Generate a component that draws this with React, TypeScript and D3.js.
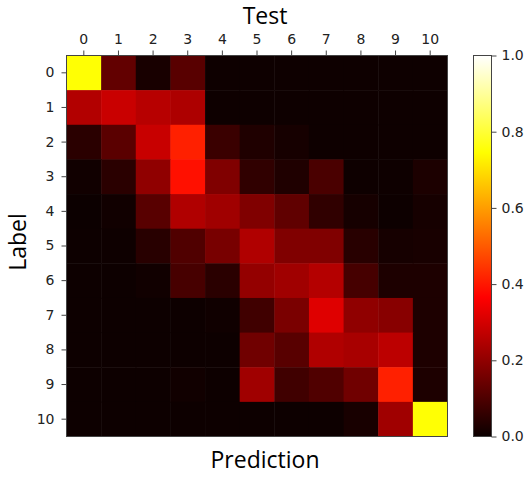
import React, { useEffect, useRef } from 'react';
import * as d3 from 'd3';

// class names for both axes
const classes = ['0', '1', '2', '3', '4', '5', '6', '7', '8', '9', '10'];

// confusion matrix, rows = label, cols = prediction
const row0 = [0.75, 0.13, 0.02, 0.115, 0.005, 0.005, 0.005, 0.005, 0.005, 0.005, 0.005];
const row1 = [0.25, 0.285, 0.258, 0.243, 0.005, 0.005, 0.005, 0.005, 0.005, 0.005, 0.005];
const row2 = [0.047, 0.118, 0.283, 0.413, 0.071, 0.03, 0.017, 0.005, 0.005, 0.005, 0.005];
const row3 = [0.01, 0.047, 0.199, 0.389, 0.175, 0.056, 0.03, 0.095, 0.005, 0.005, 0.026];
const row4 = [0.002, 0.01, 0.115, 0.247, 0.223, 0.175, 0.127, 0.056, 0.017, 0.004, 0.017];
const row5 = [0.003, 0.005, 0.044, 0.104, 0.163, 0.247, 0.175, 0.175, 0.044, 0.017, 0.02];
const row6 = [0.003, 0.003, 0.01, 0.09, 0.047, 0.205, 0.223, 0.253, 0.089, 0.028, 0.028];
const row7 = [0.003, 0.003, 0.003, 0.003, 0.008, 0.08, 0.166, 0.318, 0.199, 0.188, 0.028];
const row8 = [0.003, 0.003, 0.003, 0.003, 0.003, 0.151, 0.115, 0.247, 0.235, 0.265, 0.028];
const row9 = [0.003, 0.003, 0.003, 0.01, 0.003, 0.223, 0.08, 0.104, 0.151, 0.413, 0.028];
const row10 = [0.003, 0.003, 0.003, 0.003, 0.003, 0.003, 0.003, 0.003, 0.02, 0.223, 0.75];
const matrix = [row0, row1, row2, row3, row4, row5, row6, row7, row8, row9, row10];

const cbarTicks = [0, 0.2, 0.4, 0.6, 0.8, 1.0];

// matplotlib 'hot' colormap
const hotR = d3.scaleLinear([0, 0.365079, 1], [0.0416, 1, 1]).clamp(true);
const hotG = d3.scaleLinear([0, 0.365079, 0.746032, 1], [0, 0, 1, 1]).clamp(true);
const hotB = d3.scaleLinear([0, 0.746032, 1], [0, 0, 1]).clamp(true);
const hot = (v: number) =>
  d3.rgb(hotR(v) * 255, hotG(v) * 255, hotB(v) * 255).formatHex();

const W = 528;
const H = 478;
const tickFont = '"DejaVu Sans", sans-serif';
const labelFont = '"Open Sans", sans-serif';

const App: React.FC = () => {
  const svgRef = useRef<SVGSVGElement>(null);

  useEffect(() => {
    if (!svgRef.current) return;
    const svg = d3.select(svgRef.current);
    svg.selectAll('*').remove();

    const left = 66.5, right = 447.5, top = 55.5, bottom = 436.5;

    const x = d3.scaleBand().domain(classes).range([left, right]);
    const y = d3.scaleBand().domain(classes).range([top, bottom]);

    const cells = matrix.flatMap((row, i) =>
      row.map((v, j) => ({ r: classes[i], c: classes[j], v }))
    );

    svg.append('g')
      .selectAll('rect')
      .data(cells)
      .join('rect')
      .attr('x', d => x(d.c)!)
      .attr('y', d => y(d.r)!)
      .attr('width', x.bandwidth() + 0.5)
      .attr('height', y.bandwidth() + 0.5)
      .attr('fill', d => hot(d.v));

    svg.append('rect')
      .attr('x', left).attr('y', top)
      .attr('width', right - left).attr('height', bottom - top)
      .attr('fill', 'none').attr('stroke', '#444').attr('stroke-width', 1);

    const topAxis = svg.append('g')
      .attr('transform', `translate(0,${top})`)
      .call(d3.axisTop(x).tickSize(5).tickPadding(7));
    const leftAxis = svg.append('g')
      .attr('transform', `translate(${left},0)`)
      .call(d3.axisLeft(y).tickSize(5).tickPadding(7));
    [topAxis, leftAxis].forEach(a => {
      a.select('.domain').remove();
      a.selectAll('line').attr('stroke', '#444');
      a.selectAll('text')
        .attr('fill', '#222')
        .style('font-family', tickFont)
        .style('font-size', '14px');
    });

    // colorbar
    const cbLeft = 473.5, cbW = 18;
    const cy = d3.scaleLinear().domain([0, 1]).range([bottom, top]);
    const grad = svg.append('defs').append('linearGradient')
      .attr('id', 'hotgrad')
      .attr('x1', 0).attr('y1', 1).attr('x2', 0).attr('y2', 0);
    [0, 0.365079, 0.746032, 1].forEach(s => {
      grad.append('stop').attr('offset', s).attr('stop-color', hot(s));
    });
    svg.append('rect')
      .attr('x', cbLeft).attr('y', top)
      .attr('width', cbW).attr('height', bottom - top)
      .attr('fill', 'url(#hotgrad)')
      .attr('stroke', '#444').attr('stroke-width', 1);

    const cbAxis = svg.append('g')
      .attr('transform', `translate(${cbLeft + cbW},0)`)
      .call(d3.axisRight(cy).tickValues(cbarTicks).tickFormat(d3.format('.1f')).tickSize(5).tickPadding(5));
    cbAxis.select('.domain').remove();
    cbAxis.selectAll('line').attr('stroke', '#444');
    cbAxis.selectAll('text')
      .attr('fill', '#222')
      .style('font-family', tickFont)
      .style('font-size', '14px');

    // axis titles
    svg.append('text')
      .attr('x', 265).attr('y', 24)
      .attr('text-anchor', 'middle')
      .style('font-family', labelFont).style('font-size', '23px')
      .text('Test');
    svg.append('text')
      .attr('x', 265).attr('y', 467.5)
      .attr('text-anchor', 'middle')
      .style('font-family', labelFont).style('font-size', '23px')
      .text('Prediction');
    svg.append('text')
      .attr('transform', 'translate(25.5,242) rotate(-90)')
      .attr('text-anchor', 'middle')
      .style('font-family', labelFont).style('font-size', '23px')
      .text('Label');
  }, []);

  return (
    <svg
      ref={svgRef}
      width={W}
      height={H}
      style={{ position: 'absolute', left: 0, top: 0, background: '#fff' }}
    />
  );
};

export default App;
